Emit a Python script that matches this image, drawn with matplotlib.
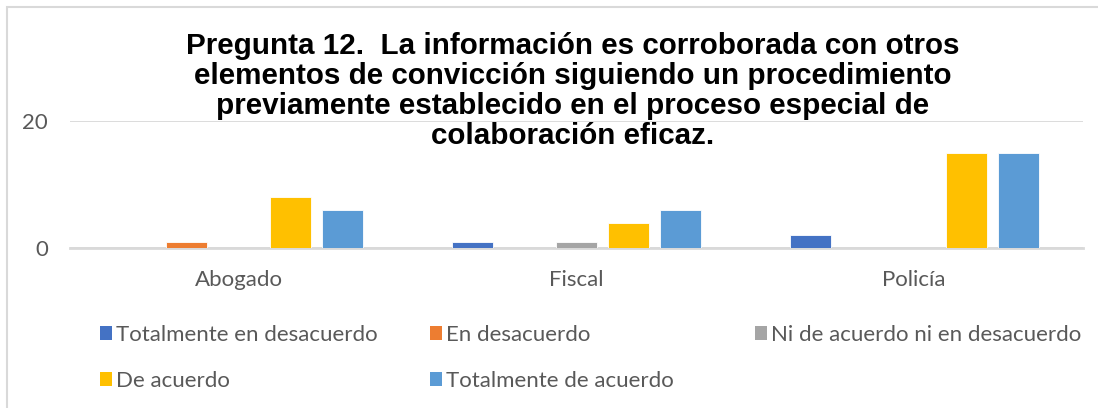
import numpy as np
import matplotlib.pyplot as plt
import matplotlib.patches as mpatches

categories = ['Abogado', 'Fiscal', 'Policía']
series = ['Totalmente en desacuerdo', 'En desacuerdo', 'Ni de acuerdo ni en desacuerdo',
          'De acuerdo', 'Totalmente de acuerdo']
totalmente_desacuerdo = [0, 1, 2]
en_desacuerdo = [1, 0, 0]
ni_ni = [0, 1, 0]
de_acuerdo = [8, 4, 15]
totalmente_acuerdo = [6, 6, 15]
colors = ['#4472C4', '#ED7D31', '#A5A5A5', '#FFC000', '#5B9BD5']

values = [totalmente_desacuerdo, en_desacuerdo, ni_ni, de_acuerdo, totalmente_acuerdo]

plt.rcParams['font.family'] = ['Lato', 'DejaVu Sans']
fig = plt.figure(figsize=(10.98, 4.08), dpi=100)
ax = fig.add_axes([70/1098, 1-248/408, 1013/1098, 127/408])

x = np.arange(len(categories))
step = 0.154
width = 0.121
for i, (vals, c) in enumerate(zip(values, colors)):
    ax.bar(x + (i-2)*step, vals, width=width, color=c, edgecolor='white', linewidth=0.6, zorder=3)

ax.set_xlim(-0.5, 2.5)
ax.set_ylim(0, 20)
ax.set_yticks([0, 20])
ax.set_xticks(x)
ax.set_xticklabels(categories)
ax.grid(axis='y', color='#D9D9D9', linewidth=1.3, zorder=0)
ax.set_axisbelow(True)
for s in ['top', 'right', 'left']:
    ax.spines[s].set_visible(False)
ax.spines['bottom'].set_color('#D9D9D9')
ax.spines['bottom'].set_linewidth(2)
ax.tick_params(axis='both', length=0, labelsize=16, labelcolor='#595959')
ax.tick_params(axis='y', pad=16)
ax.tick_params(axis='x', pad=16)
ax.set_facecolor('none')

fig.text(573/1098, 1-91/408,
         'Pregunta 12.  La información es corroborada con otros\n'
         'elementos de convicción siguiendo un procedimiento\n'
         'previamente establecido en el proceso especial de\n'
         'colaboración eficaz.',
         ha='center', va='center', fontsize=21.3, fontweight='bold',
         family='Liberation Sans', linespacing=1.09)

# legend in three columns, like the original
cols = [[0, 3], [1, 4], [2]]
col_x = [100/1098, 430/1098, 755/1098]
for xs, idx in zip(col_x, cols):
    handles = [mpatches.Patch(facecolor=colors[k], label=series[k]) for k in idx]
    leg = fig.legend(handles=handles, loc='upper left', bbox_to_anchor=(xs, 1-325/408),
                     frameon=False, fontsize=16, handlelength=0.55, handleheight=0.55,
                     handletextpad=0.15, labelspacing=1.17, borderaxespad=0, borderpad=0)
    for t in leg.get_texts():
        t.set_color('#595959')

fig.patches.append(mpatches.Rectangle((6.5/1098, -0.05), 1.1, 1.05-7.5/408,
                                      transform=fig.transFigure, fill=False,
                                      edgecolor='#D9D9D9', linewidth=1.5))

fig.savefig('out.png', dpi=100)
